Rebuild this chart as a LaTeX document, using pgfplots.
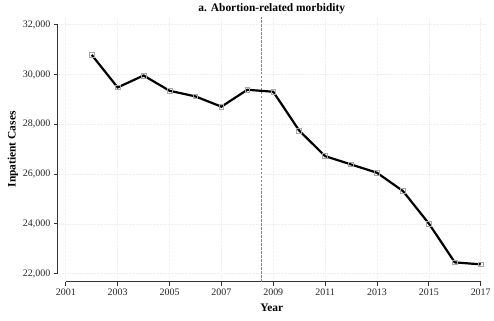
\documentclass[border=0pt]{standalone}
\usepackage{fontspec}
\setmainfont{Liberation Serif}
\usepackage{pgfplots}
\pgfplotsset{compat=1.18}
\definecolor{vred}{RGB}{222,90,120}
\begin{document}
\begin{tikzpicture}[x=1pt,y=1pt]
\begin{axis}[
  scale only axis,
  width=430pt, height=265.5pt,
  xmin=2000.69, xmax=2017.2,
  ymin=21680, ymax=32300,
  axis lines=left,
  axis line style={draw=none,-},
  tick align=outside,
  major tick length=4pt,
  tick style={draw=black!80, line width=0.8pt},
  xtick={2001,2003,...,2017},
  ytick={22000,24000,...,32000},
  /pgf/number format/assume math mode=true,
  x tick label style={/pgf/number format/1000 sep={}, font=\fontsize{10}{12}\selectfont, text=black!85},
  y tick label style={/pgf/number format/1000 sep={,}, font=\fontsize{10}{12}\selectfont, text=black!85},
  scaled y ticks=false,
  grid=major,
  major grid style={densely dotted, draw=black!6, line width=0.6pt},
  xlabel={\textbf{Year}},
  ylabel={\textbf{Inpatient Cases}},
  xlabel style={font=\fontsize{11.5}{13}\selectfont, yshift=-1pt},
  ylabel style={font=\fontsize{11.5}{13}\selectfont, yshift=-2pt},
  title={\textbf{a. Abortion-related morbidity}},
  title style={font=\fontsize{11.5}{13}\selectfont, yshift=-6pt},
  clip=false,
]
\draw[black!80, line width=0.9pt] (axis cs:2000.69,22000) -- (axis cs:2000.69,32000);
\draw[black!80, line width=0.9pt] (axis cs:2001,21680) -- (axis cs:2017,21680);
\draw[draw=vred, dash pattern=on 2.5pt off 1.5pt, line width=1pt] (axis cs:2008.53,21680) -- (axis cs:2008.53,32300);
\addplot[black, line width=2.2pt, mark=square, mark size=2.4pt,
  mark options={draw=black!35, line width=0.7pt}] coordinates {
(2002,30787)
(2003,29480)
(2004,29960)
(2005,29347)
(2006,29120)
(2007,28707)
(2008,29387)
(2009,29307)
(2010,27747)
(2011,26720)
(2012,26387)
(2013,26053)
(2014,25320)
(2015,24013)
(2016,22453)
(2017,22373)
};
\end{axis}
\path ([xshift=-58pt,yshift=-39pt]current axis.south west) rectangle ([xshift=6pt,yshift=15pt]current axis.north east);
\end{tikzpicture}
\end{document}
